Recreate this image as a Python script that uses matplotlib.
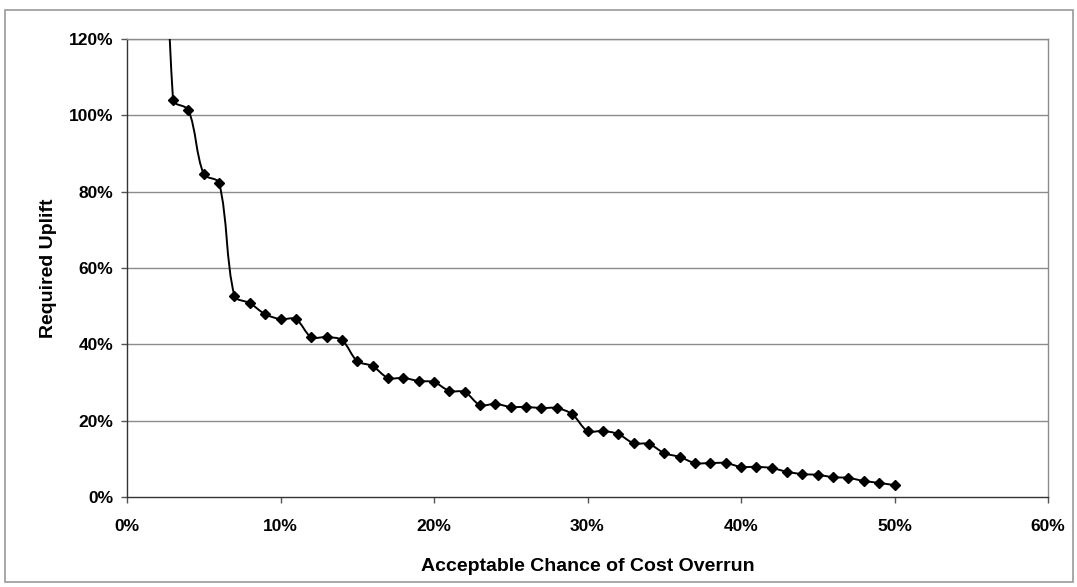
import matplotlib
matplotlib.use("Agg")
import matplotlib.pyplot as plt
from matplotlib.path import Path
from matplotlib.patches import PathPatch, Rectangle
from matplotlib.ticker import FuncFormatter

plt.rcParams['font.family'] = ['Liberation Sans', 'DejaVu Sans']

# acceptable chance of cost overrun (%) and required uplift (%)
chance = [2, 3, 4, 5, 6, 7, 8, 9, 10, 11, 12, 13, 14, 15, 16, 17, 18, 19, 20,
          21, 22, 23, 24, 25, 26, 27, 28, 29, 30, 31, 32, 33, 34, 35, 36, 37,
          38, 39, 40, 41, 42, 43, 44, 45, 46, 47, 48, 49, 50]
uplift = [230, 104.0, 101.4, 84.6, 82.3, 52.7, 50.8, 47.9, 46.6, 46.6, 41.9,
          41.9, 41.1, 35.6, 34.3, 31.2, 31.2, 30.4, 30.1, 27.8, 27.5, 24.1,
          24.4, 23.6, 23.6, 23.3, 23.3, 21.7, 17.3, 17.3, 16.5, 14.1, 13.9,
          11.5, 10.5, 8.9, 8.9, 8.9, 7.9, 7.9, 7.6, 6.6, 6.0, 5.8, 5.2, 5.0,
          4.2, 3.7, 3.1]
x_ticks = [0, 10, 20, 30, 40, 50, 60]
y_ticks = [0, 20, 40, 60, 80, 100, 120]


def smooth_path(xs, ys, sx, sy):
    # smoothed line, bezier arms weighted by neighbouring chord lengths
    pts = list(zip(xs, ys))
    n = len(pts)

    def dist(a, b):
        return (((b[0] - a[0]) * sx) ** 2 + ((b[1] - a[1]) * sy) ** 2) ** 0.5

    verts = [pts[0]]
    codes = [Path.MOVETO]
    for i in range(n - 1):
        p1, p2 = pts[i], pts[i + 1]
        d = dist(p1, p2)
        if i > 0:
            p0 = pts[i - 1]
            w = d / (dist(p0, p1) + d)
            c1 = (p1[0] + (p2[0] - p0[0]) * w / 3, p1[1] + (p2[1] - p0[1]) * w / 3)
        else:
            c1 = (p1[0] + (p2[0] - p1[0]) / 3, p1[1] + (p2[1] - p1[1]) / 3)
        if i + 2 < n:
            p3 = pts[i + 2]
            w = d / (d + dist(p2, p3))
            c2 = (p2[0] - (p3[0] - p1[0]) * w / 3, p2[1] - (p3[1] - p1[1]) * w / 3)
        else:
            c2 = (p2[0] - (p2[0] - p1[0]) / 3, p2[1] - (p2[1] - p1[1]) / 3)
        verts += [c1, c2, p2]
        codes += [Path.CURVE4] * 3
    return Path(verts, codes)


fig = plt.figure(figsize=(10.77, 5.87), dpi=100)
ax = fig.add_axes([127 / 1077, 1 - 497 / 587, 921 / 1077, 458 / 587])

fig.patches.append(Rectangle((5 / 1077, 1 - 582 / 587), 1068 / 1077, 572 / 587,
                             transform=fig.transFigure, fill=False,
                             edgecolor='#9a9a9a', linewidth=1.2))

ax.set_xlim(0, 60)
ax.set_ylim(0, 120)
for y in y_ticks[1:]:
    ax.axhline(y, color='#8c8c8c', linewidth=1.0, zorder=1)

ax.add_patch(PathPatch(smooth_path(chance, uplift, 921 / 60, 458 / 120),
                       fill=False, edgecolor='black', linewidth=1.4,
                       zorder=3, clip_on=True))
ax.plot(chance, uplift, linestyle='none', marker='D', markersize=5.5,
        color='black', zorder=4)

ax.set_xticks(x_ticks)
ax.set_yticks(y_ticks)
pct = FuncFormatter(lambda v, p: f"{v:.0f}%")
ax.xaxis.set_major_formatter(pct)
ax.yaxis.set_major_formatter(pct)
ax.tick_params(axis='both', direction='out', length=4, width=1,
               labelsize=12.5, color='#555555')
ax.tick_params(axis='x', pad=12)
ax.tick_params(axis='y', pad=6)
for lab in ax.get_xticklabels() + ax.get_yticklabels():
    lab.set_fontweight('bold')

for side in ['top', 'right']:
    ax.spines[side].set_color('#8c8c8c')
    ax.spines[side].set_linewidth(1.0)
for side in ['left', 'bottom']:
    ax.spines[side].set_color('#333333')
    ax.spines[side].set_linewidth(1.0)

ax.set_xlabel("Acceptable Chance of Cost Overrun", fontsize=14,
              fontweight='bold', labelpad=17)
ax.set_ylabel("Required Uplift", fontsize=14, fontweight='bold', labelpad=8)

fig.savefig("out.png", dpi=100)
